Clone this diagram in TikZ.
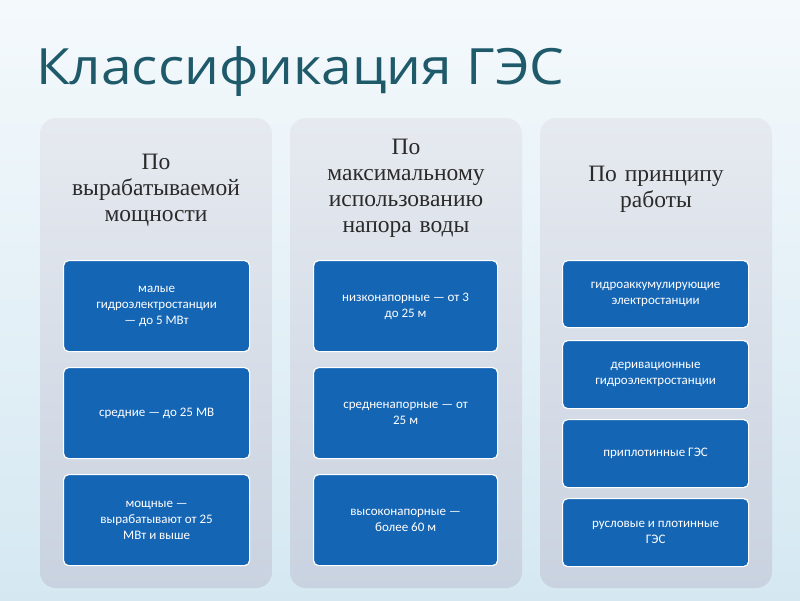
\documentclass[tikz,border=0pt]{standalone}
\usepackage{fontspec}
\setmainfont{Liberation Serif}
\newfontfamily\titlefont{Open Sans}
\newfontfamily\boxfont{Carlito}
\definecolor{bgtop}{HTML}{F4F9FC}
\definecolor{bgbot}{HTML}{D5E8F2}
\definecolor{titlec}{HTML}{1F5A6A}
\definecolor{panelt}{HTML}{E6EAF0}
\definecolor{panelb}{HTML}{C9D2E0}
\definecolor{boxc}{HTML}{1565B5}
\definecolor{headc}{HTML}{2A2A2A}
\tikzset{
  panel/.style={rounded corners=16pt, top color=panelt, bottom color=panelb, draw=none},
  bluebox/.style={rounded corners=5pt, fill=boxc, draw=white, line width=1.2pt, text=white,
    font=\boxfont\fontsize{13}{16}\selectfont, align=center, anchor=north west, inner sep=0pt},
  head/.style={font=\fontsize{23.5}{26}\selectfont, text=headc, align=center, text width=228pt},
}
\begin{document}
\begin{tikzpicture}[x=1pt,y=-1pt]
\useasboundingbox (0,0) rectangle (800,600);
\shade[top color=bgtop, bottom color=bgbot] (0,0) rectangle (800,600);
\node[anchor=west, font=\titlefont\fontsize{50}{54}\selectfont, text=titlec, inner sep=0pt, xscale=1.1] (title) at (36,72) {Классификация ГЭС};
% panels
\draw[panel] (40,118) rectangle (272,588);
\draw[panel] (290,118) rectangle (522,588);
\draw[panel] (540,118) rectangle (772,588);
\node[head] (h1) at (156,190) {По\\вырабатываемой\\мощности};
\node[head] (h2) at (406,188) {По\\максимальному\\использованию\\напора воды};
\node[head] (h3) at (656,189) {По принципу\\работы};
% column 1
\node[bluebox, minimum width=186pt, minimum height=91pt] (a1) at (63,260) {малые\\гидроэлектростанции\\— до 5 МВт};
\node[bluebox, minimum width=186pt, minimum height=91pt] (a2) at (63,367) {средние — до 25 МВ};
\node[bluebox, minimum width=186pt, minimum height=91pt] (a3) at (63,474) {мощные —\\вырабатывают от 25\\МВт и выше};
% column 2
\node[bluebox, minimum width=184pt, minimum height=91pt] (b1) at (313,260) {низконапорные — от 3\\до 25 м};
\node[bluebox, minimum width=184pt, minimum height=91pt] (b2) at (313,367) {средненапорные — от\\25 м};
\node[bluebox, minimum width=184pt, minimum height=91pt] (b3) at (313,474) {высоконапорные —\\более 60 м};
% column 3
\node[bluebox, minimum width=186pt, minimum height=67pt] (c1) at (562,260) {гидроаккумулирующие\\электростанции};
\node[bluebox, minimum width=186pt, minimum height=68pt] (c2) at (562,340) {деривационные\\гидроэлектростанции};
\node[bluebox, minimum width=186pt, minimum height=68pt] (c3) at (562,419) {приплотинные ГЭС};
\node[bluebox, minimum width=186pt, minimum height=68pt] (c4) at (562,498) {русловые и плотинные\\ГЭС};
\end{tikzpicture}
\end{document}
